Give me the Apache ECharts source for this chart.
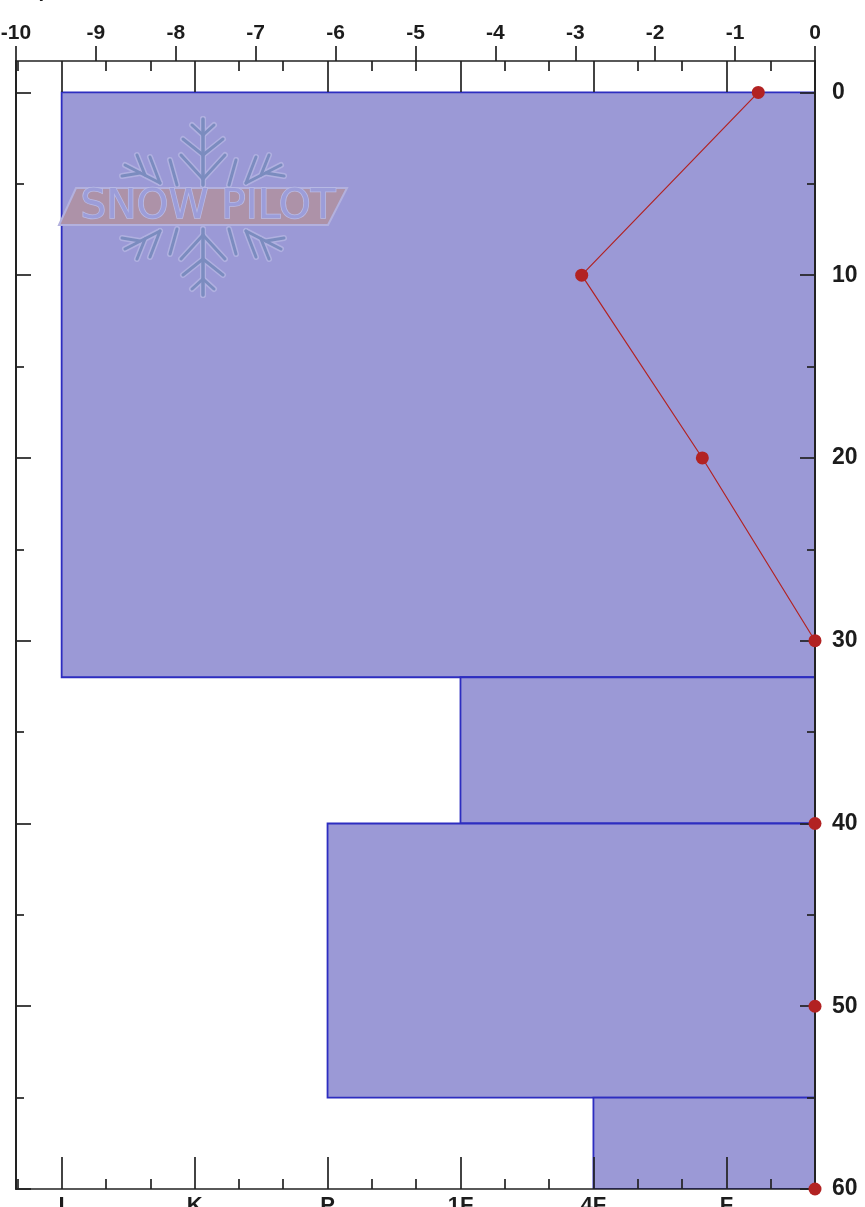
<!DOCTYPE html>
<html><head><meta charset="utf-8">
<style>html,body{margin:0;padding:0;background:#fff;overflow:hidden}#c{width:865px;height:1207px}</style>
<script src="https://cdn.jsdelivr.net/npm/echarts@6/dist/echarts.min.js"></script>
</head><body><div id="c"></div>
<script>
const shearTicks = [-10,-9,-8,-7,-6,-5,-4,-3,-2,-1,0];
const depthMajor = [0,10,20,30,40,50,60];
const depthMinor = [5,15,25,35,45,55];
const hardnessNames = ['F','4F','1F','P','K','I'];
const hardnessSteps = [-2,-5,-8,-11,-14,-17];
const hardnessMinor = [-18,-16,-15,-13,-12,-10,-9,-7,-6,-4,-3,-1];
const layerTop = [0,32,40,55];
const layerBottom = [32,40,55,60];
const layerHardness = ['I','1F','P','4F'];
const shearDepth = [0,10,20,30,40,50,60];
const shearValue = [-0.71,-2.92,-1.41,0,0,0,0];

const axisColor = '#222';
const labelFont = {fontFamily:'Liberation Sans',fontWeight:'bold',color:'#1c1c1c'};
const HMIN = -18.03, DMIN = -1.72;

function hAxis(position, vals, len, labels){
  return {type:'value',position,min:HMIN,max:0,z:5,splitLine:{show:false},
    axisLine:{show:false,onZero:false},
    axisTick:{show:true,inside:true,length:len,customValues:vals,lineStyle:{color:axisColor,width:1.7}},
    axisLabel: labels ? {show:true,customValues:hardnessSteps,margin:6,fontSize:22,...labelFont,
      formatter:v=>hardnessNames[hardnessSteps.indexOf(v)]} : {show:false}};
}
function dAxis(position, vals, len, labels, line){
  return {type:'value',position,inverse:true,min:DMIN,max:60,z:5,splitLine:{show:false},
    axisLine:{show:line,onZero:false,lineStyle:{color:axisColor,width:2}},
    axisTick:{show:true,inside:true,length:len,customValues:vals,lineStyle:{color:axisColor,width:1.7}},
    axisLabel: labels ? {show:true,customValues:depthMajor,margin:17,fontSize:23,padding:[4,0,0,0],...labelFont} : {show:false}};
}

// SNOW PILOT watermark: one quadrant of the snowflake, mirrored
const flakeCx = 203, flakeCy = 207;
const flakeSegs = [
 [[0,-22],[0,-88]],[[0,-28],[-22,-52]],[[0,-52],[-20,-68]],[[0,-72],[-11,-82]],
 [[-43,-24],[-78,-42]],[[-43,-24],[-53,-50]],[[-58,-32],[-66,-52]],[[-63,-34],[-81,-31]],
 [[-26,-22],[-33,-47]]
];
const logo = [];
[[1,1],[-1,1],[1,-1],[-1,-1]].forEach(([sx,sy])=>{
  flakeSegs.forEach(s=>{
    const pts = s.map(p=>[flakeCx+sx*p[0],flakeCy+sy*p[1]]);
    logo.push({type:'polyline',z:3,shape:{points:pts},style:{stroke:'#b0b0e0',lineWidth:6,fill:null,lineCap:'round'}});
  });
});
[[1,1],[-1,1],[1,-1],[-1,-1]].forEach(([sx,sy])=>{
  flakeSegs.forEach(s=>{
    const pts = s.map(p=>[flakeCx+sx*p[0],flakeCy+sy*p[1]]);
    logo.push({type:'polyline',z:3,shape:{points:pts},style:{stroke:'#7b8cbf',lineWidth:3,fill:null,lineCap:'round'}});
  });
});
logo.push({type:'polygon',z:3,shape:{points:[[59,225],[76,188],[347,188],[328,225]]},
  style:{fill:'#ad92a8',stroke:'#b3b1de',lineWidth:2}});
logo.push({type:'text',z:3,x:208,y:207,
  style:{text:'SNOW PILOT',font:'40.5px "DejaVu Sans"',fill:'#9c9dd9',stroke:'#b9bbe6',lineWidth:1.5,textAlign:'center',textVerticalAlign:'middle'}});
// clipped heading at the top edge
logo.push({type:'text',z:3,x:13,y:1,style:{text:'Depth',font:'bold 20px "Liberation Sans"',fill:'#1c1c1c',textAlign:'left',textVerticalAlign:'bottom'}});
logo.push({type:'text',z:3,x:205,y:1,style:{text:',',font:'16px "Liberation Sans"',fill:'#333',textAlign:'left',textVerticalAlign:'bottom'}});

const chart = echarts.init(document.getElementById('c'),null,{renderer:'canvas'});
chart.setOption({
  animation:false,
  backgroundColor:'#fff',
  grid:{left:16,right:50,top:61,height:1128,containLabel:false,outerBoundsMode:'none'},
  graphic:{elements:logo},
  xAxis:[
    {type:'value',position:'top',min:-10,max:0,interval:1,z:5,splitLine:{show:false},
     axisLine:{show:true,onZero:false,lineStyle:{color:axisColor,width:1.7}},
     axisTick:{show:true,inside:false,length:15,lineStyle:{color:axisColor,width:1.7}},
     axisLabel:{show:true,margin:17,fontSize:21,...labelFont,showMinLabel:true,showMaxLabel:true}},
    hAxis('top',hardnessSteps,31,false),
    hAxis('top',hardnessMinor,10,false),
    {...hAxis('bottom',hardnessSteps,32,true),axisLine:{show:true,onZero:false,lineStyle:{color:axisColor,width:1.7}}},
    hAxis('bottom',hardnessMinor,10,false)
  ],
  yAxis:[
    dAxis('right',depthMajor,15,true,true),
    dAxis('right',depthMinor,8,false,false),
    dAxis('left',depthMajor,15,false,true),
    dAxis('left',depthMinor,8,false,false)
  ],
  series:[
    {type:'custom',xAxisIndex:1,yAxisIndex:0,z:1,clip:true,silent:true,
     data:layerTop.map((t,i)=>[hardnessSteps[hardnessNames.indexOf(layerHardness[i])],t,layerBottom[i]]),
     encode:{x:0,y:[1,2]},
     renderItem:(p,api)=>{
       const a=api.coord([api.value(0),api.value(1)]), b=api.coord([0,api.value(2)]);
       return {type:'rect',shape:{x:a[0],y:a[1],width:b[0]-a[0],height:b[1]-a[1]},
         style:{fill:'#9b99d6',stroke:'#2d2dc0',lineWidth:1.8}};
     }},
    {type:'line',xAxisIndex:0,yAxisIndex:0,z:10,clip:false,silent:true,
     data:shearValue.slice(0,4).map((v,i)=>[v,shearDepth[i]]),
     symbol:'circle',symbolSize:13,showSymbol:true,
     lineStyle:{color:'#b22222',width:1.2},itemStyle:{color:'#b22222'}},
    {type:'scatter',xAxisIndex:0,yAxisIndex:0,z:10,clip:false,silent:true,
     data:shearValue.slice(4).map((v,i)=>[v,shearDepth[i+4]]),
     symbol:'circle',symbolSize:13,itemStyle:{color:'#b22222',opacity:1}}
  ]
});
</script></body></html>
